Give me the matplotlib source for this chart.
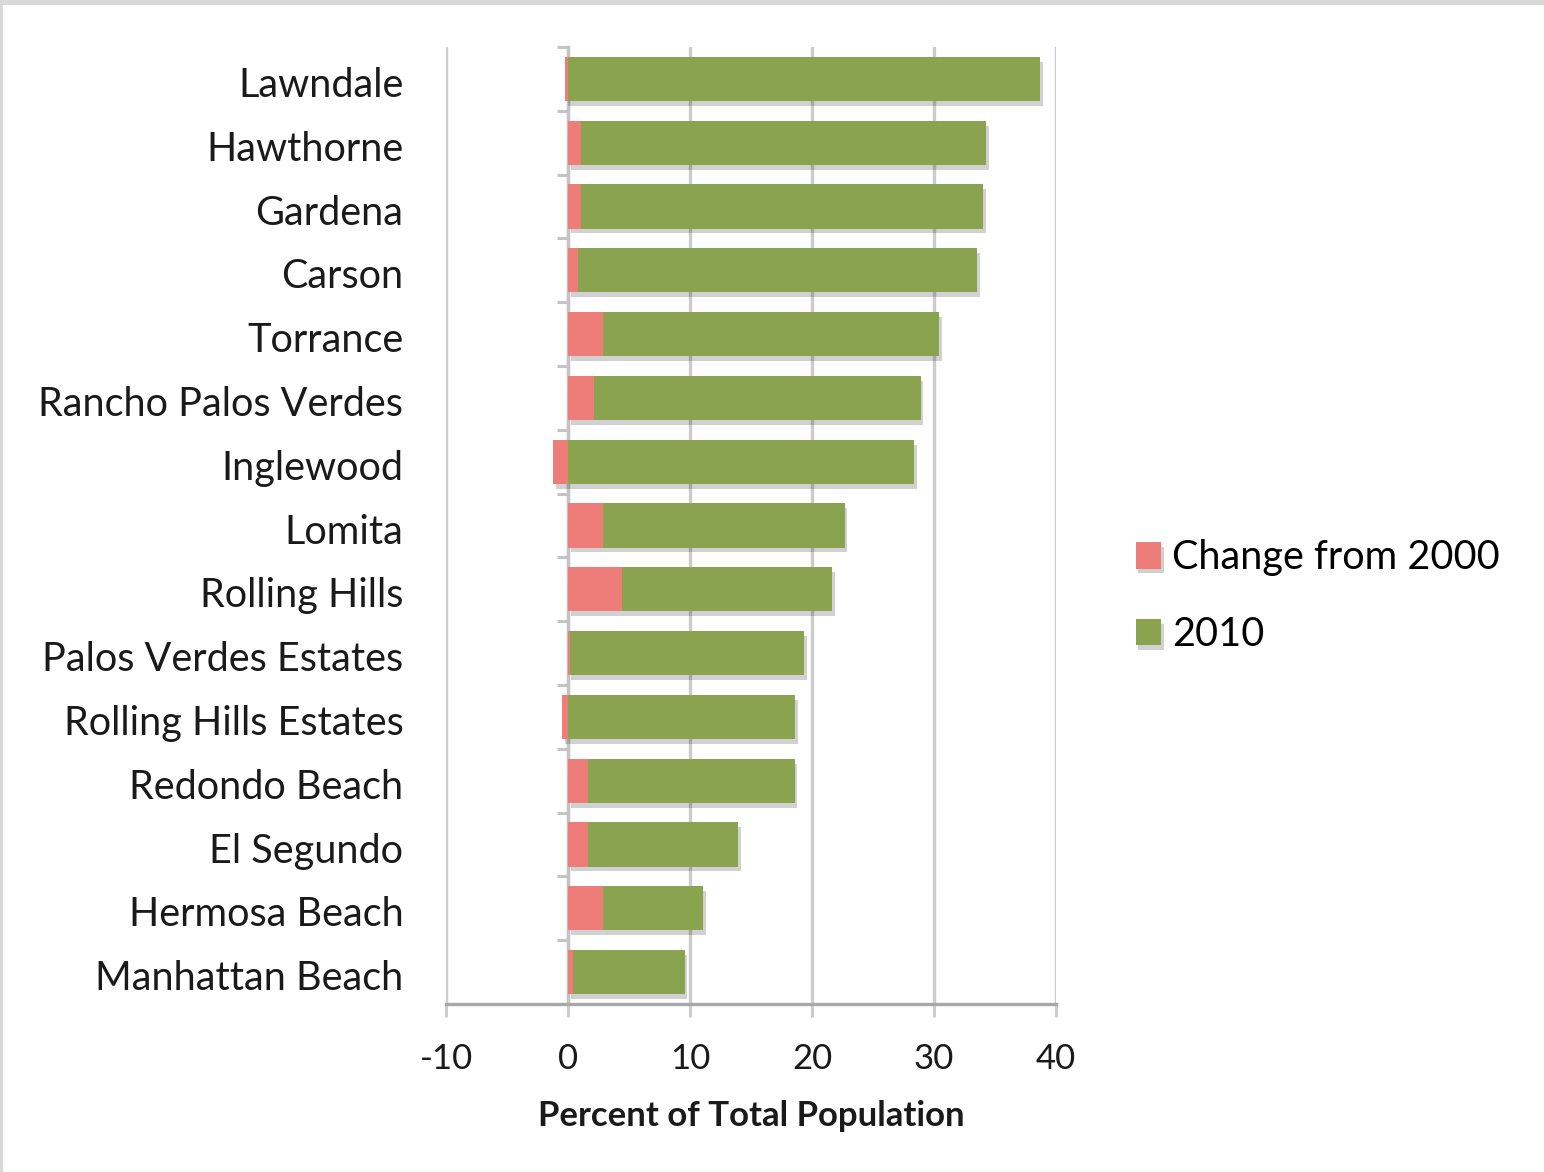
import numpy as np
import matplotlib
matplotlib.use("Agg")
import matplotlib.pyplot as plt
import matplotlib.patheffects as pe
from matplotlib.patches import Rectangle

plt.rcParams['font.family'] = ['Lato', 'DejaVu Sans']

cities = ["Lawndale", "Hawthorne", "Gardena", "Carson", "Torrance",
          "Rancho Palos Verdes", "Inglewood", "Lomita", "Rolling Hills",
          "Palos Verdes Estates", "Rolling Hills Estates", "Redondo Beach",
          "El Segundo", "Hermosa Beach", "Manhattan Beach"]
change_2000 = [-0.25, 1.06, 1.1, 0.79, 2.88, 2.15, -1.2, 2.88, 4.43,
               0.2, -0.5, 1.63, 1.6, 2.88, 0.4]
pct_2010 = [38.7, 33.2, 32.9, 32.75, 27.55, 26.75, 28.4, 19.8, 17.25,
            19.15, 18.6, 16.95, 12.35, 8.2, 9.15]
xticks = [-10, 0, 10, 20, 30, 40]

red = '#EE7D79'
green = '#8AA34E'
grid_col = '#cccccc'

fig = plt.figure(figsize=(15.44, 11.72), dpi=100)
fig.patch.set_facecolor('#d9d9d9')
fig.add_artist(Rectangle((3/1544, 0), 1, 1 - 5/1172, transform=fig.transFigure,
                         facecolor='white', edgecolor='none', zorder=0))

ax = fig.add_axes([446/1544, (1172-1004)/1172, 610/1544, 957/1172])
ax.patch.set_alpha(0)

n = len(cities)
y = np.arange(n)
change = np.array(change_2000)
left_green = np.maximum(change, 0)

shadow = [pe.withSimplePatchShadow(offset=(2, -3.5), shadow_rgbFace='k', alpha=0.18)]
ax.barh(y, change, height=0.69, color=red, zorder=3, label='Change from 2000',
        path_effects=shadow)
ax.barh(y, pct_2010, left=left_green, height=0.69, color=green, zorder=3,
        label='2010', path_effects=shadow)

ax.set_xlim(-10, 40)
ax.set_ylim(n - 0.5, -0.5)
ax.set_xticks(xticks)
ax.set_xticklabels([str(t) for t in xticks], fontsize=25, color='#1a1a1a')
ax.xaxis.grid(True, color=grid_col, lw=2.4, zorder=1)
ax.set_axisbelow(True)
ax.tick_params(axis='x', length=9, width=2.2, color=grid_col, pad=19)

# category axis sits at 0
ax.spines['left'].set_position(('data', 0))
ax.spines['left'].set_color('#c4c4c4')
ax.spines['left'].set_linewidth(2.4)
ax.spines['left'].set_zorder(2)
ax.set_yticks(np.arange(n + 1) - 0.5)
ax.set_yticklabels([])
ax.tick_params(axis='y', length=8, width=2.2, color='#c4c4c4')
ax.spines['right'].set_visible(False)
ax.spines['top'].set_visible(False)
ax.spines['bottom'].set_color('#a8a8a8')
ax.spines['bottom'].set_linewidth(2.4)

for i, name in enumerate(cities):
    ax.text(-0.07, i + 0.05, name, transform=ax.get_yaxis_transform(), ha='right',
            va='center_baseline', fontsize=28.5, color='#1a1a1a')

ax.set_xlabel('Percent of Total Population', fontsize=25, fontweight='bold',
              labelpad=18, color='#1a1a1a')

fig.legend(loc='center left', bbox_to_anchor=(1100/1544, 1 - 596/1172),
           frameon=False, fontsize=28.5, handlelength=0.65, handleheight=0.65,
           handletextpad=0.28, labelspacing=1.0)

plt.savefig('out.png', dpi=100)
